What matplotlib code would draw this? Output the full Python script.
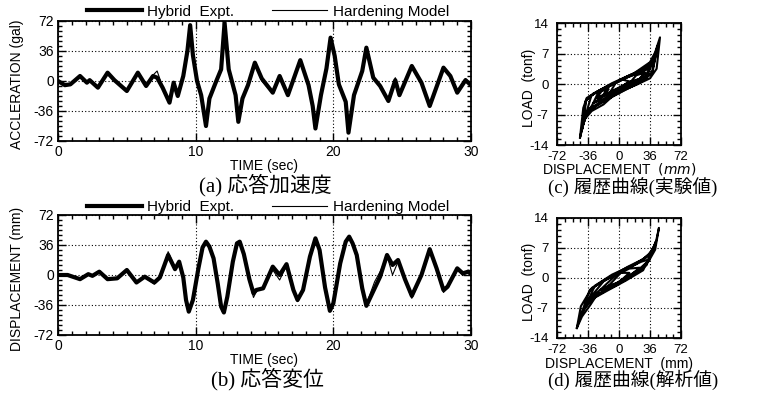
import matplotlib
matplotlib.use("Agg")
import matplotlib.pyplot as plt
from matplotlib.ticker import MultipleLocator, FixedLocator

plt.rcParams['font.family'] = ['Liberation Sans', 'DejaVu Sans']
plt.rcParams['axes.unicode_minus'] = False

# ---------------- data ----------------
acc_t_exp = [0, 0.5, 0.9, 1.6, 2.1, 2.3, 2.9, 3.6, 4.1, 5.0, 5.8, 6.4, 6.9, 7.2, 7.6, 8.1, 8.4,
             8.7, 9.1, 9.4, 9.6, 9.8, 10.1, 10.4, 10.75, 11.0, 11.5, 11.85, 12.1, 12.4, 12.9,
             13.1, 13.4, 13.8, 14.3, 14.8, 15.6, 16.1, 16.7, 17.6, 18.2, 18.5, 18.7, 19.1,
             19.5, 19.8, 20.1, 20.4, 20.9, 21.1, 21.5, 22.1, 22.4, 22.9, 23.4, 24.0, 24.5,
             24.8, 25.7, 26.4, 27.0, 28.0, 28.5, 29.0, 29.6, 30.0]
acc_exp = [0, -5, -4, 6, -2, 1, -8, 10, 1, -12, 10, -6, 6, 4, -8, -26, -2,
           -18, 6, 36, 67, 31, 0, -17, -54, -21, 0, 14, 70, 14, -17,
           -49, -21, -5, 22, 3, -14, 6, -17, 25, -5, -30, -57, -17,
           15, 52, 30, -4, -25, -62, -17, 12, 40, 4, -6, -24, 1,
           -17, 18, -2, -30, 16, 6, -14, 1, -5]

acc_t_mod = [0, 0.5, 0.9, 1.6, 2.1, 2.3, 2.9, 3.6, 4.1, 5.0, 5.8, 6.4, 6.9, 7.2, 7.6, 8.1, 8.4,
             8.7, 9.1, 9.4, 9.6, 9.8, 10.1, 10.4, 10.75, 11.0, 11.5, 11.85, 12.1, 12.4, 12.9,
             13.1, 13.4, 13.8, 14.3, 14.8, 15.6, 16.1, 16.7, 17.6, 18.2, 18.5, 18.7, 19.1,
             19.5, 19.8, 20.1, 20.4, 20.9, 21.1, 21.5, 22.1, 22.4, 22.9, 23.4, 24.0, 24.5,
             24.8, 25.7, 26.4, 27.0, 28.0, 28.5, 29.0, 29.6, 30.0]
acc_mod = [0, -4, -5, 7, -3, 0, -7, 11, 2, -11, 11, -5, 7, 12, -7, -24, -1,
           -17, 5, 34, 62, 30, 1, -15, -48, -22, 1, 15, 66, 15, -15,
           -44, -20, -4, 21, 0, -15, 4, -16, 24, -4, -28, -52, -16,
           14, 48, 28, -3, -23, -58, -16, 11, 38, 2, -4, -22, 4,
           -15, 17, -4, -28, 15, 7, -12, 3, -4]

dis_t_exp = [0, 0.7, 1.6, 2.2, 2.5, 3.0, 3.6, 4.3, 5.0, 5.7, 6.3, 7.0, 7.4, 8.0, 8.5, 8.8, 9.1,
             9.3, 9.5, 9.8, 10.2, 10.5, 10.75, 11.0, 11.3, 11.6, 11.85, 12.05, 12.3, 12.7,
             13.0, 13.2, 13.5, 13.9, 14.2, 14.4, 14.9, 15.6, 16.1, 16.6, 17.1, 17.4, 17.8,
             18.3, 18.7, 19.0, 19.4, 19.75, 20.0, 20.5, 20.9, 21.15, 21.4, 21.7, 22.1, 22.4,
             23.0, 23.4, 23.9, 24.3, 24.7, 25.2, 25.7, 26.4, 27.0, 27.5, 28.0, 28.3, 29.0,
             29.4, 29.8, 30.0]
dis_exp = [0, 0, -5, 1, -1, 4, -5, -4, 6, -9, -2, -9, -3, 24, 7, 16, -3,
           -30, -44, -30, 8, 33, 40, 34, 20, -10, -38, -45, -26, 16,
           38, 40, 25, -5, -22, -18, -16, 10, 0, 13, -18, -30, -18,
           22, 44, 30, -15, -43, -34, 14, 40, 46, 38, 24, -16, -37,
           -16, -2, 24, 12, 18, -5, -25, 0, 31, 8, -18, -14, 8,
           2, 4, 1]

dis_t_mod = [0, 0.7, 1.6, 2.2, 2.5, 3.0, 3.6, 4.3, 5.0, 5.7, 6.3, 7.0, 7.4, 8.0, 8.5, 8.8, 9.1,
             9.3, 9.5, 9.8, 10.2, 10.5, 10.75, 11.0, 11.3, 11.6, 11.85, 12.05, 12.3, 12.7,
             13.0, 13.2, 13.5, 13.9, 14.2, 14.4, 14.9, 15.6, 16.1, 16.6, 17.1, 17.4, 17.8,
             18.3, 18.7, 19.0, 19.4, 19.75, 20.0, 20.5, 20.9, 21.15, 21.4, 21.7, 22.1, 22.4,
             23.0, 23.4, 23.9, 24.3, 24.7, 25.2, 25.7, 26.4, 27.0, 27.5, 28.0, 28.3, 29.0,
             29.4, 29.8, 30.0]
dis_mod = [0, 0, -4, 1, -2, 3, -4, -5, 5, -8, -3, -11, -4, 28, 9, 17, -2,
           -28, -42, -28, 9, 34, 38, 33, 22, -8, -36, -43, -25, 17,
           37, 38, 24, -8, -27, -20, -14, 6, -6, 11, -20, -32, -19,
           20, 43, 29, -14, -41, -33, 12, 38, 44, 36, 20, -18, -35,
           -8, 4, 23, 0, 16, -7, -28, -2, 29, 6, -21, -16, 6,
           0, 3, 2]

# hysteresis (c): experiment
hyst_exp_disp = [-45.3, -42, -39.5, -31.7, -18, -3, 20, 36, 43.7, 47.6,
                 42, 36, 17, -3, -22, -37.5, -41.5, -45.3,
                 -43, -38, -28, -12, 5, 25, 38, 45,
                 40, 30, 12, -8, -26, -38, -43,
                 -41.5, -36, -24, -8, 10, 28, 39, 43.5,
                 38, 24, 6, -12, -30, -39, -41.5,
                 -40, -34, -20, -4, 14, 32, 42,
                 36, 20, 2, -16, -32, -40,
                 -30, -18, -2, 16, 30, 36,
                 26, 8, -10, -24, -30,
                 -20, -6, 10, 24, 30,
                 18, 2, -12, -20,
                 -26, -18, -12, -20, -26,
                 -10, 0, 12, 4, -4, -10,
                 14, 24, 30, 20, 14]
hyst_exp_load = [-12.3, -9.5, -8.0, -6.2, -4.7, -2.0, -0.2, 1.3, 3.5, 10.7,
                 7.3, 5.0, 2.4, 0.5, -1.4, -3.2, -5.5, -12.3,
                 -10.5, -6.8, -5.2, -3.4, -1.6, 0.4, 2.4, 8.8,
                 5.6, 3.6, 2.0, 0.2, -1.8, -3.6, -10.5,
                 -9.2, -6.2, -4.6, -2.8, -1.0, 0.9, 2.8, 7.4,
                 4.6, 3.0, 1.4, -0.4, -2.2, -4.0, -9.2,
                 -8.0, -5.6, -4.0, -2.2, -0.6, 1.4, 6.5,
                 4.0, 2.6, 0.9, -0.8, -2.6, -8.0,
                 -4.4, -3.4, -1.8, 0.0, 1.8, 3.6,
                 2.8, 1.4, -0.4, -1.9, -4.4,
                 -3.0, -1.8, -0.3, 1.2, 2.6,
                 2.2, 0.9, -0.6, -3.0,
                 -3.2, -2.6, -1.2, -1.6, -3.2,
                 -1.8, -1.0, 0.6, 1.0, 0.2, -1.8,
                 0.6, 1.2, 2.6, 2.0, 0.6]

# hysteresis (d): hardening model
hyst_mod_disp = [-49, -43, -33, -25.5, 3.5, 23, 34.4, 42, 46.4,
                 42.2, 34.4, 19, -12, -31.5, -44.3, -49,
                 -44, -36, -26, -5, 18, 32, 43,
                 38, 28, 10, -16, -34, -44,
                 -40, -30, -14, 8, 28, 40,
                 32, 16, -8, -28, -40,
                 -36, -24, -4, 16, 36,
                 26, 6, -18, -36,
                 -22, -8, 8, 24,
                 12, -4, -22,
                 -12, 0, 12, 2, -12]
hyst_mod_load = [-11.7, -9.0, -6.2, -3.9, -0.4, 1.9, 3.9, 6.6, 11.7,
                 7.8, 5.4, 3.1, 0.0, -2.3, -6.6, -11.7,
                 -8.5, -6.0, -4.2, -1.6, 1.0, 3.0, 8.6,
                 6.2, 4.4, 2.6, -0.4, -2.8, -8.5,
                 -7.0, -4.8, -3.0, -0.6, 1.8, 6.8,
                 4.8, 3.0, 0.8, -1.8, -7.0,
                 -5.2, -3.8, -1.8, 0.6, 4.4,
                 3.8, 2.0, -0.8, -5.2,
                 -2.8, -1.8, -0.2, 2.4,
                 2.2, 0.6, -2.8,
                 -1.8, -1.0, 1.2, 1.2, -1.8]

time_ticks = [0, 10, 20, 30]
resp_ticks = [-72, -36, 0, 36, 72]
load_ticks = [-14, -7, 0, 7, 14]
disp_ticks = [-72, -36, 0, 36, 72]

legend_labels = ['Hybrid  Expt.', 'Hardening Model']
captions = ['(a) 応答加速度', '(b) 応答変位', '(c) 履歴曲線(実験値)', '(d) 履歴曲線(解析値)']

# ---------------- figure ----------------
W, H = 757, 394
fig = plt.figure(figsize=(W / 100, H / 100), dpi=100)
fig.patch.set_facecolor('white')


def add_ax(l, t, r, b):
    return fig.add_axes([l / W, 1 - b / H, (r - l) / W, (b - t) / H])


def style(ax, fs=9.5):
    for s in ax.spines.values():
        s.set_linewidth(1.3)
    ax.tick_params(which='both', direction='in', top=True, right=True,
                   labelsize=fs, width=1.0, pad=3)
    ax.tick_params(which='major', length=6)
    ax.tick_params(which='minor', length=3)
    ax.grid(True, which='major', linestyle=(0, (1, 2)), color='black', linewidth=0.8)


# ---- (a) acceleration ----
axa = add_ax(58, 21, 471, 141)
axa.plot(acc_t_exp, acc_exp, color='black', lw=3.0, solid_joinstyle='round',
         label=legend_labels[0])
axa.plot(acc_t_mod, acc_mod, color='black', lw=0.8, label=legend_labels[1])
axa.set_xlim(0, 30)
axa.set_ylim(-72, 72)
axa.xaxis.set_major_locator(FixedLocator(time_ticks))
axa.yaxis.set_major_locator(FixedLocator(resp_ticks))
axa.xaxis.set_minor_locator(MultipleLocator(1))
axa.yaxis.set_minor_locator(MultipleLocator(6))
style(axa, fs=10)
axa.set_xlabel('TIME (sec)', fontsize=10, labelpad=0)
axa.set_ylabel('ACCLERATION (gal)', fontsize=10)
axa.yaxis.set_label_coords(-0.083, 0.47)

# ---- (b) displacement ----
axb = add_ax(58, 215, 471, 335)
axb.plot(dis_t_exp, dis_exp, color='black', lw=3.0, solid_joinstyle='round',
         label=legend_labels[0])
axb.plot(dis_t_mod, dis_mod, color='black', lw=0.8, label=legend_labels[1])
axb.set_xlim(0, 30)
axb.set_ylim(-72, 72)
axb.xaxis.set_major_locator(FixedLocator(time_ticks))
axb.yaxis.set_major_locator(FixedLocator(resp_ticks))
axb.xaxis.set_minor_locator(MultipleLocator(1))
axb.yaxis.set_minor_locator(MultipleLocator(6))
style(axb, fs=10)
axb.set_xlabel('TIME (sec)', fontsize=10, labelpad=0)
axb.set_ylabel('DISPLACEMENT (mm)', fontsize=10)
axb.yaxis.set_label_coords(-0.083, 0.47)

for ax, yy in ((axa, 1.078), (axb, 1.067)):
    ax.legend(loc='center left', bbox_to_anchor=(0.07, yy), ncol=2, frameon=False,
              fontsize=11, handlelength=3.6, handletextpad=0.35, columnspacing=2.5,
              borderpad=0, borderaxespad=0)

# ---- (c), (d) hysteresis ----
axc = add_ax(557, 23, 681, 145)
axc.plot(hyst_exp_disp, hyst_exp_load, color='black', lw=1.5, solid_joinstyle='round')
axd = add_ax(557, 218, 681, 338)
axd.plot(hyst_mod_disp, hyst_mod_load, color='black', lw=1.5, solid_joinstyle='round')
for ax in (axc, axd):
    ax.set_xlim(-72, 72)
    ax.set_ylim(-14, 14)
    ax.xaxis.set_major_locator(FixedLocator(disp_ticks))
    ax.yaxis.set_major_locator(FixedLocator(load_ticks))
    ax.xaxis.set_minor_locator(MultipleLocator(9))
    ax.yaxis.set_minor_locator(MultipleLocator(1.4))
    style(ax, fs=9.5)
    ax.tick_params(axis='x', pad=4)
    ax.tick_params(axis='y', pad=6)
    ax.set_ylabel('LOAD  (tonf)', fontsize=10)
    ax.yaxis.set_label_coords(-0.17, 0.47)
axc.set_xlabel('DISPLACEMENT  $\\it{(mm)}$', fontsize=10)
axd.set_xlabel('DISPLACEMENT  (mm)', fontsize=10)
axc.xaxis.set_label_coords(0.5, -0.135)
axd.xaxis.set_label_coords(0.5, -0.155)

# ---- captions ----
cap_font = ['Liberation Serif', 'Noto Sans CJK JP']
fig.text(265 / W, 1 - 185 / H, captions[0], fontsize=15, family=cap_font, ha='center', va='center')
fig.text(267 / W, 1 - 379 / H, captions[1], fontsize=15, family=cap_font, ha='center', va='center')
fig.text(633 / W, 1 - 188 / H, captions[2], fontsize=13.5, family=cap_font, ha='center', va='center')
fig.text(633 / W, 1 - 380 / H, captions[3], fontsize=13.5, family=cap_font, ha='center', va='center')

fig.savefig('out.png', dpi=100, facecolor='white')
